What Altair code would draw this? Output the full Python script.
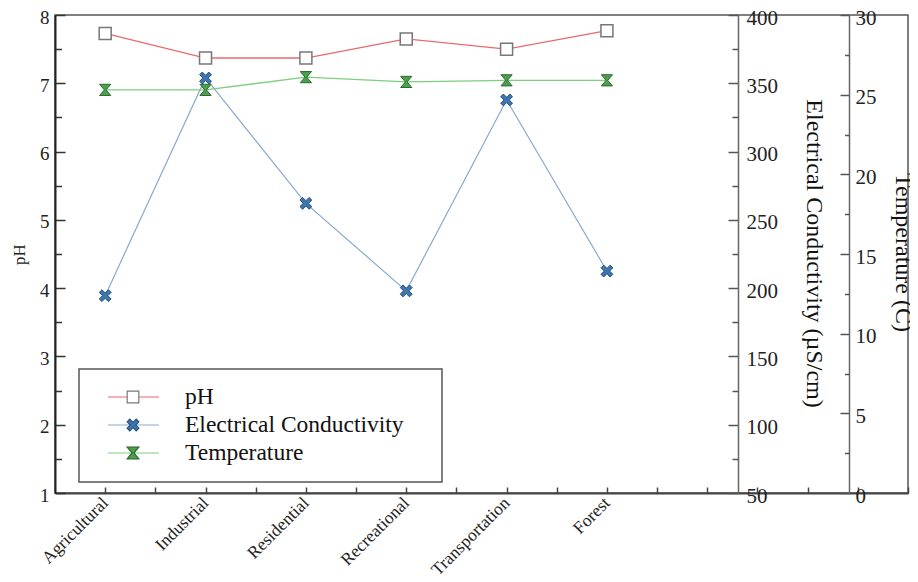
import json
import altair as alt
import pandas as pd

# ---------------- data ----------------
categories = ["Agricultural", "Industrial", "Residential", "Recreational", "Transportation", "Forest"]
positions = [0, 1, 2, 3, 4, 5]
ph_values = [7.73, 7.37, 7.37, 7.65, 7.50, 7.77]
ec_values = [194.5, 353.9, 262.1, 198.0, 337.8, 212.5]
temp_values = [25.3, 25.3, 26.1, 25.8, 25.9, 25.9]

series_names = ["pH", "Electrical Conductivity", "Temperature"]
legend_rows = [0, 1, 2]

ph_ticks = [1, 2, 3, 4, 5, 6, 7, 8]
ph_minor = [1.5, 2.5, 3.5, 4.5, 5.5, 6.5, 7.5]
ec_ticks = [50, 100, 150, 200, 250, 300, 350, 400]
ec_minor = [75, 125, 175, 225, 275, 325, 375]
temp_ticks = [0, 5, 10, 15, 20, 25, 30]
temp_minor = [2.5, 7.5, 12.5, 17.5, 22.5, 27.5]
x_ticks = [0, 0.5, 1, 1.5, 2, 2.5, 3, 3.5, 4, 4.5, 5, 5.5, 6, 6.5, 7, 7.5, 8]

# ---------------- styling / layout ----------------
W, H = 853, 478
EC_AXIS_X = 683     # position of the EC axis inside the plot
TEMP_AXIS_X = 794   # position of the temperature axis inside the plot
FONT = "Liberation Serif"

line_colors = ["#e8696c", "#86abd0", "#7ccf7c"]
marker_fill = ["white", "#3f76ad", "#4e9e50"]
marker_stroke = ["#777777", "#234f7d", "#2b6a2d"]
x_shape = "M-1,-0.55 L-0.55,-1 L0,-0.45 L0.55,-1 L1,-0.55 L0.45,0 L1,0.55 L0.55,1 L0,0.45 L-0.55,1 L-1,0.55 L-0.45,0 Z"
hourglass = "M-1,-1 L1,-1 L0.15,0 L1,1 L-1,1 L-0.15,0 Z"
shapes = ["square", x_shape, hourglass]

df = pd.DataFrame({"pos": positions, "category": categories,
                   "ph": ph_values, "ec": ec_values, "temp": temp_values})
legend_df = pd.DataFrame({"name": series_names, "row": legend_rows})
box_df = pd.DataFrame({"k": [0]})

x_scale = alt.Scale(domain=[-0.5, 8.0], nice=False, zero=False)
ph_scale = alt.Scale(domain=[1, 8], nice=False, zero=False)
ec_scale = alt.Scale(domain=[50, 400], nice=False, zero=False)
temp_scale = alt.Scale(domain=[0, 30], nice=False, zero=False)

label_expr = ("datum.value >= 0 && datum.value <= 5 && datum.value % 1 == 0 ? "
              + json.dumps(categories) + "[datum.value] : ''")

x_axis = alt.Axis(orient="top", offset=-H, values=x_ticks, tickSize=6, tickWidth=1.5,
                  tickColor="#444", domain=True, domainColor="#444", domainWidth=2,
                  labelExpr=label_expr, labelAngle=315, labelAlign="right",
                  labelBaseline="middle", labelPadding=-13, labelFont=FONT,
                  labelFontSize=17.5, labelColor="#222", labelOverlap=False,
                  labelFlush=False, grid=False, title=None)

ph_axis = alt.Axis(orient="right", offset=-W, values=ph_ticks, tickSize=10, tickWidth=1.5,
                   tickColor="#333", domain=True, domainColor="#222", domainWidth=2,
                   labelPadding=-16, labelAlign="right", labelBaseline="middle",
                   labelOffset=2, labelFont=FONT, labelFontSize=19, labelColor="#222",
                   labelOverlap=False, labelFlush=False, grid=False,
                   title="pH", titleAngle=270, titleX=-36, titleY=239, titleFont=FONT,
                   titleFontSize=17, titleFontWeight="normal", titleColor="#222",
                   titleAlign="center", titleBaseline="middle")
ph_minor_axis = alt.Axis(orient="right", offset=-W, values=ph_minor, tickSize=6.5,
                         tickWidth=1.5, tickColor="#333", domain=False, labels=False,
                         grid=False, title=None)

ec_axis = alt.Axis(orient="left", offset=-EC_AXIS_X, values=ec_ticks, tickSize=10,
                   tickWidth=1.5, tickColor="#555", domain=True, domainColor="#666",
                   domainWidth=1.5, labelPadding=-18, labelAlign="left",
                   labelBaseline="middle", labelOffset=3, labelFont=FONT, labelFontSize=21,
                   labelColor="#222", labelOverlap=False, labelFlush=False, grid=False,
                   title="Electrical Conductivity (µS/cm)", titleAngle=90, titleX=75,
                   titleY=238, titleFont=FONT, titleFontSize=24, titleFontWeight="normal",
                   titleColor="#111", titleAlign="center", titleBaseline="middle")
ec_minor_axis = alt.Axis(orient="left", offset=-EC_AXIS_X, values=ec_minor, tickSize=6,
                         tickWidth=1.5, tickColor="#555", domain=False, labels=False,
                         grid=False, title=None)

temp_axis = alt.Axis(orient="left", offset=-TEMP_AXIS_X, values=temp_ticks, tickSize=9,
                     tickWidth=1.5, tickColor="#555", domain=True, domainColor="#666",
                     domainWidth=1.5, labelPadding=-15, labelAlign="left",
                     labelBaseline="middle", labelOffset=3, labelFont=FONT, labelFontSize=21,
                     labelColor="#222", labelOverlap=False, labelFlush=False, grid=False,
                     title="Temperature (C)", titleAngle=90, titleX=53, titleY=237,
                     titleFont=FONT, titleFontSize=24, titleFontWeight="normal",
                     titleColor="#111", titleAlign="center", titleBaseline="middle")
temp_minor_axis = alt.Axis(orient="left", offset=-TEMP_AXIS_X, values=temp_minor,
                           tickSize=4.5, tickWidth=1.5, tickColor="#555", domain=False,
                           labels=False, grid=False, title=None)

base = alt.Chart(df)

def xenc(axis=None):
    return alt.X("pos:Q", scale=x_scale, axis=axis)

ph_line = base.mark_line(color=line_colors[0], strokeWidth=1.3).encode(
    x=xenc(x_axis), y=alt.Y("ph:Q", scale=ph_scale, axis=ph_axis))
ec_line = base.mark_line(color=line_colors[1], strokeWidth=1.2).encode(
    x=xenc(), y=alt.Y("ec:Q", scale=ec_scale, axis=ec_axis))
temp_line = base.mark_line(color=line_colors[2], strokeWidth=1.3).encode(
    x=xenc(), y=alt.Y("temp:Q", scale=temp_scale, axis=temp_axis))

ph_pts = base.mark_point(shape=shapes[0], size=144, filled=True, opacity=1,
                         fill=marker_fill[0], stroke=marker_stroke[0], strokeWidth=1.5).encode(
    x=xenc(), y=alt.Y("ph:Q", scale=ph_scale, axis=ph_minor_axis))
ec_pts = base.mark_point(shape=shapes[1], size=140, filled=True, opacity=1,
                         fill=marker_fill[1], stroke=marker_stroke[1], strokeWidth=1).encode(
    x=xenc(), y=alt.Y("ec:Q", scale=ec_scale, axis=ec_minor_axis))
temp_pts = base.mark_point(shape=shapes[2], size=125, filled=True, opacity=1,
                           fill=marker_fill[2], stroke=marker_stroke[2], strokeWidth=1).encode(
    x=xenc(), y=alt.Y("temp:Q", scale=temp_scale, axis=temp_minor_axis))

# ---------------- legend ----------------
legend_y = alt.Y("row:Q", scale=alt.Scale(domain=[0, 2], range=[382, 438]), axis=None)

legend_box = alt.Chart(box_df).mark_rect(fill="white", stroke="#555", strokeWidth=1.5).encode(
    x=alt.value(24), x2=alt.value(387), y=alt.value(354), y2=alt.value(467))
legend_lines = alt.Chart(legend_df).mark_rule(strokeWidth=1.2).encode(
    x=alt.value(53), x2=alt.value(104), y=legend_y,
    color=alt.Color("name:N", scale=alt.Scale(domain=series_names, range=line_colors), legend=None))
legend_marks = alt.Chart(legend_df).mark_point(filled=True, opacity=1, size=135, strokeWidth=1.2).encode(
    x=alt.value(78), y=legend_y,
    shape=alt.Shape("name:N", scale=alt.Scale(domain=series_names, range=shapes), legend=None),
    fill=alt.Fill("name:N", scale=alt.Scale(domain=series_names, range=marker_fill), legend=None),
    stroke=alt.Stroke("name:N", scale=alt.Scale(domain=series_names, range=marker_stroke), legend=None))
legend_text = alt.Chart(legend_df).mark_text(align="left", baseline="middle", font=FONT,
                                             fontSize=23.5, color="#111").encode(
    x=alt.value(130), y=legend_y, text="name:N")

chart = alt.layer(
    legend_box, ph_line, ec_line, temp_line, ph_pts, ec_pts, temp_pts,
    legend_lines, legend_marks, legend_text
).resolve_scale(y="independent").resolve_axis(y="independent", x="independent").properties(
    width=W, height=H,
    autosize=alt.AutoSizeParams(type="none"),
    padding={"left": 47, "top": 7, "right": 2, "bottom": 81},
    background="white",
).configure_view(stroke="#555", strokeWidth=1.5)

chart.save("out.html", embed_options={"renderer": "svg", "actions": False})
